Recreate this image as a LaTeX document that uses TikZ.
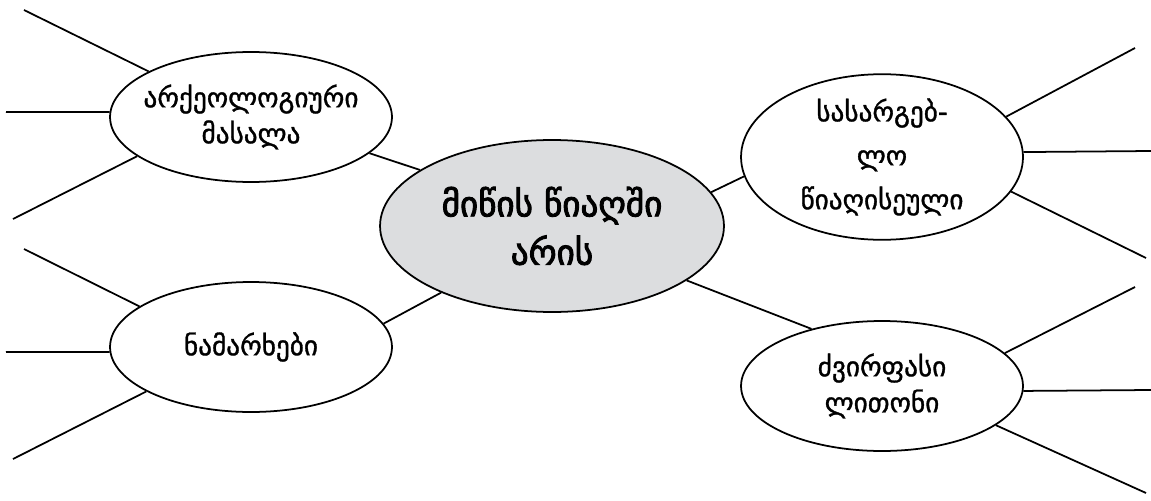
\documentclass[tikz,border=0pt]{standalone}
\usepackage{fontspec}
\setmainfont{DejaVu Sans}
\newfontfamily\geomid[FakeBold=1.2]{DejaVu Sans}
\newfontfamily\geobold[FakeBold=2.6]{DejaVu Sans}
\usepackage{tikz}
\usetikzlibrary{shapes.geometric}
\definecolor{coregray}{RGB}{220, 221, 223}
\tikzset{
  topic/.style={draw, ellipse, line width=1pt, minimum width=5.64cm, minimum height=2.6cm, inner xsep=-10pt, inner ysep=0pt, align=center, font=\geomid\fontsize{15.5}{20.5}\selectfont},
  spoke/.style={line width=1pt}
}

\begin{document}
\begin{tikzpicture}[x=0.02cm, y=-0.02cm]
  \useasboundingbox (0,0) rectangle (1151,500);

  % Core
  \node[draw, ellipse, fill=coregray, line width=1pt, minimum width=6.88cm, minimum height=3.44cm, inner sep=0pt, align=center, font=\geobold\fontsize{20}{27.5}\selectfont] (core) at (552,226) {მიწის წიაღში\\არის};

  % Branches
  \node[topic] (arch) at (251,117) {არქეოლოგიური\\მასალა};
  \node[topic] (foss) at (251,347) {ნამარხები};
  \node[topic, font=\geomid\fontsize{15.5}{25}\selectfont] (mine) at (882,157) {სასარგებ-\\ლო\\წიაღისეული};
  \node[topic] (gems) at (882,386) {ძვირფასი\\ლითონი};

  \draw[spoke] (core.157.8) -- (arch.343.9);
  \draw[spoke] (core.211.8) -- (foss.10.2);
  \draw[spoke] (core.12.5) -- (mine.188.8);
  \draw[spoke] (core.338.6) -- (gems.141.1);

  % Free ends
  \coordinate (a1) at (24,10);
  \coordinate (a2) at (6,112);
  \coordinate (a3) at (13,219);
  \coordinate (f1) at (24,249);
  \coordinate (f2) at (6,352);
  \coordinate (f3) at (13,459);
  \coordinate (m1) at (1135,48);
  \coordinate (m2) at (1151,151);
  \coordinate (m3) at (1146,258);
  \coordinate (g1) at (1135,287);
  \coordinate (g2) at (1151,390);
  \coordinate (g3) at (1146,493);

  \draw[spoke] (a1) -- (arch.156.4);
  \draw[spoke] (a2) -- (arch.178);
  \draw[spoke] (a3) -- (arch.199.9);
  \draw[spoke] (f1) -- (foss.160.2);
  \draw[spoke] (f2) -- (foss.182);
  \draw[spoke] (f3) -- (foss.203.6);
  \draw[spoke] (m1) -- (mine.18.6);
  \draw[spoke] (m2) -- (mine.2);
  \draw[spoke] (m3) -- (mine.345);
  \draw[spoke] (g1) -- (gems.15.5);
  \draw[spoke] (g2) -- (gems.358.4);
  \draw[spoke] (g3) -- (gems.341.7);
\end{tikzpicture}
\end{document}
